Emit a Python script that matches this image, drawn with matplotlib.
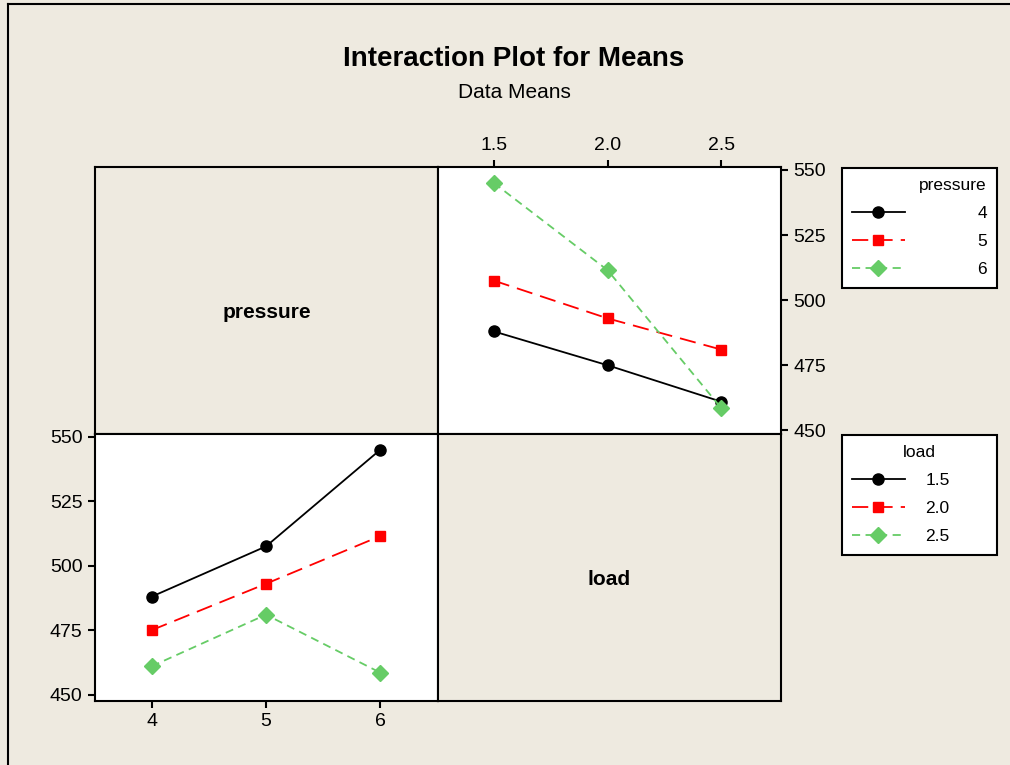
import matplotlib
matplotlib.use("Agg")
import matplotlib.pyplot as plt
from matplotlib.lines import Line2D
import numpy as np

# factor levels
pressure = [4, 5, 6]
load = [1.5, 2.0, 2.5]

# cell means, one row per pressure level, one column per load level
means_p4 = [488.0, 475.0, 461.0]
means_p5 = [507.5, 493.0, 481.0]
means_p6 = [545.0, 511.5, 458.5]
means = np.array([means_p4, means_p5, means_p6])

yticks = [450, 475, 500, 525, 550]

BG = "#EEEAE0"
colors = ["black", "#FF0000", "#66CC66"]
markers = ["o", "s", "D"]
msizes = [8, 7, 8]
dashes = [None, (9, 4.5), (4.5, 3)]

plt.rcParams["font.family"] = ["Liberation Sans", "DejaVu Sans"]

fig = plt.figure(figsize=(10.1, 7.65), dpi=100, facecolor=BG)

W, H = 1010.0, 765.0
x0, xm, x1 = 95, 438, 781
y0, ym, y1 = 166.5, 433.5, 700.5


def box(left, top, right, bottom):
    return [left / W, 1 - bottom / H, (right - left) / W, (bottom - top) / H]


ax_tl = fig.add_axes(box(x0, y0, xm, ym), facecolor=BG)
ax_tr = fig.add_axes(box(xm, y0, x1, ym), facecolor="white")
ax_bl = fig.add_axes(box(x0, ym, xm, y1), facecolor="white")
ax_br = fig.add_axes(box(xm, ym, x1, y1), facecolor=BG)

for ax in (ax_tl, ax_tr, ax_bl, ax_br):
    for s in ax.spines.values():
        s.set_linewidth(1.5)
        s.set_color("black")

for ax, name in ((ax_tl, "pressure"), (ax_br, "load")):
    ax.set_xticks([])
    ax.set_yticks([])
    ax.text(0.5, 0.455, name, transform=ax.transAxes, ha="center", va="center",
            fontsize=15, fontweight="bold")


def draw_lines(ax, x, rows):
    handles = []
    for i, vals in enumerate(rows):
        kw = dict(color=colors[i], marker=markers[i], markersize=msizes[i],
                  linewidth=1.3)
        if dashes[i] is None:
            kw["linestyle"] = "-"
        else:
            kw["dashes"] = dashes[i]
        h, = ax.plot(x, vals, **kw)
        handles.append(h)
    return handles


# top right: x = load, one line per pressure
h_press = draw_lines(ax_tr, load, means)
ax_tr.set_xlim(1.255, 2.762)
ax_tr.set_ylim(448.8, 551.3)
ax_tr.set_xticks(load)
ax_tr.set_xticklabels(["%.1f" % v for v in load])
ax_tr.set_yticks(yticks)
ax_tr.xaxis.tick_top()
ax_tr.yaxis.tick_right()

# bottom left: x = pressure, one line per load
h_load = draw_lines(ax_bl, pressure, means.T)
ax_bl.set_xlim(3.504, 6.505)
ax_bl.set_ylim(447.7, 551.3)
ax_bl.set_xticks(pressure)
ax_bl.set_yticks(yticks)

for ax in (ax_tr, ax_bl):
    ax.tick_params(direction="out", length=5, width=1.5, labelsize=14, pad=4)

fig.text(0.509, 1 - 59 / H, "Interaction Plot for Means", ha="center", va="center",
         fontsize=20, fontweight="bold")
fig.text(0.509, 1 - 93 / H, "Data Means", ha="center", va="center", fontsize=15,
         family=["Liberation Sans Narrow", "Liberation Sans"])

leg_kw = dict(loc="upper left", mode="expand", fontsize=12.5, title_fontsize=12.5,
              handlelength=3.0, borderpad=0.6, labelspacing=0.75,
              borderaxespad=0, fancybox=False, edgecolor="black", framealpha=1,
              numpoints=1)

leg1 = fig.legend(h_press, [str(p) for p in pressure], title="pressure",
                  bbox_to_anchor=(842 / W, 1 - 167.5 / H - 0.01, 155 / W, 0.01),
                  handletextpad=4.2, alignment="right", **leg_kw)
leg2 = fig.legend(h_load, ["%.1f" % v for v in load], title="load",
                  bbox_to_anchor=(842 / W, 1 - 434.5 / H - 0.01, 155 / W, 0.01),
                  handletextpad=1.2, alignment="center", **leg_kw)
for leg in (leg1, leg2):
    leg.get_frame().set_linewidth(1.5)

# window border along the top and left edge
fig.add_artist(Line2D([8 / W, 1], [1 - 3.5 / H, 1 - 3.5 / H], color="black", lw=1.5))
fig.add_artist(Line2D([8 / W, 8 / W], [0, 1 - 3.5 / H], color="black", lw=1.5))

fig.savefig("out.png", dpi=100, facecolor=BG)
